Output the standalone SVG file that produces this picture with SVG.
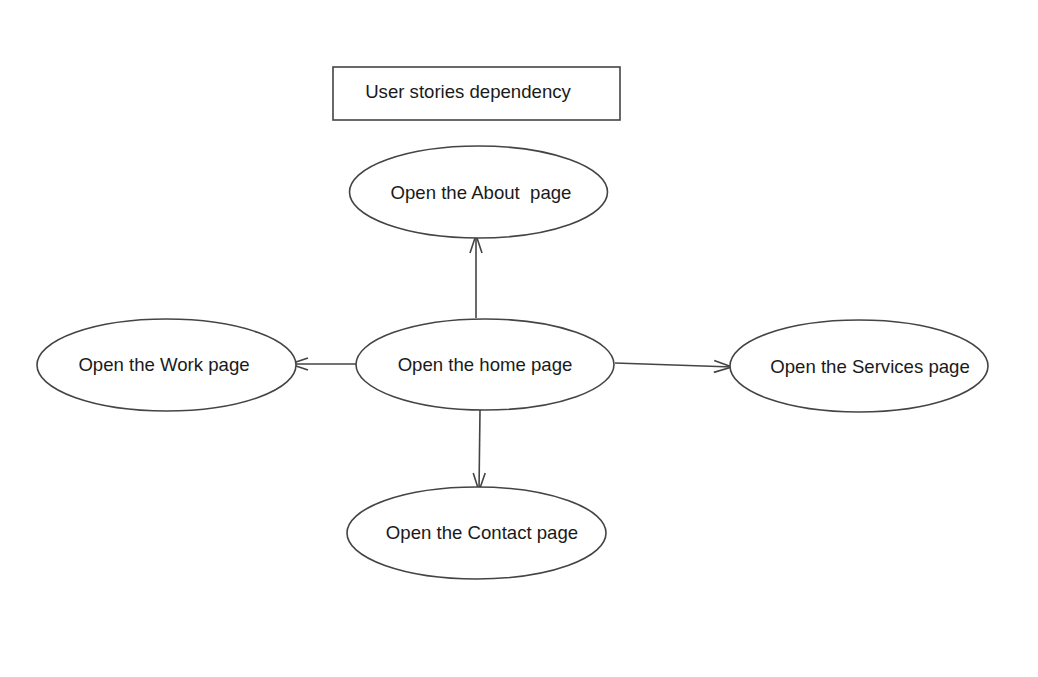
<svg xmlns="http://www.w3.org/2000/svg" width="1038" height="677" viewBox="0 0 1038 677">
<defs>
<style>
.node{fill:#ffffff;stroke:#444444;stroke-width:1.6}
.lbl{font-family:"Liberation Sans",Arial,sans-serif;font-size:18.6px;fill:#1a1a1a;text-anchor:middle;white-space:pre}
.edge{stroke:#444444;stroke-width:1.6;fill:none}
</style>
<marker id="arr" viewBox="0 0 20 14" refX="19" refY="7" markerWidth="20" markerHeight="14" markerUnits="userSpaceOnUse" orient="auto">
<path d="M1,1 L19,7 L1,13" fill="none" stroke="#444444" stroke-width="1.6"/>
</marker>
</defs>
<rect width="1038" height="677" fill="#ffffff"/>
<g id="title">
<rect class="node" x="333" y="67" width="287" height="53"/>
<text class="lbl" x="468" y="98">User stories dependency</text>
</g>
<g id="connectors">
<line class="edge" x1="476" y1="318" x2="476" y2="235" marker-end="url(#arr)"/>
<line class="edge" x1="356" y1="364" x2="290" y2="364" marker-end="url(#arr)"/>
<line class="edge" x1="615" y1="363" x2="732" y2="367" marker-end="url(#arr)"/>
<line class="edge" x1="480" y1="410" x2="479" y2="491" marker-end="url(#arr)"/>
</g>
<g id="about">
<ellipse class="node" cx="478.5" cy="192" rx="129" ry="46"/>
<text class="lbl" x="481" y="199">Open the About  page</text>
</g>
<g id="home">
<ellipse class="node" cx="485" cy="364.5" rx="129" ry="45.5"/>
<text class="lbl" x="485" y="371">Open the home page</text>
</g>
<g id="work">
<ellipse class="node" cx="166.5" cy="365" rx="129.5" ry="46"/>
<text class="lbl" x="164" y="371">Open the Work page</text>
</g>
<g id="services">
<ellipse class="node" cx="859" cy="366" rx="129" ry="46"/>
<text class="lbl" x="870" y="373">Open the Services page</text>
</g>
<g id="contact">
<ellipse class="node" cx="476.5" cy="533" rx="129.5" ry="46"/>
<text class="lbl" x="482" y="539">Open the Contact page</text>
</g>
</svg>
